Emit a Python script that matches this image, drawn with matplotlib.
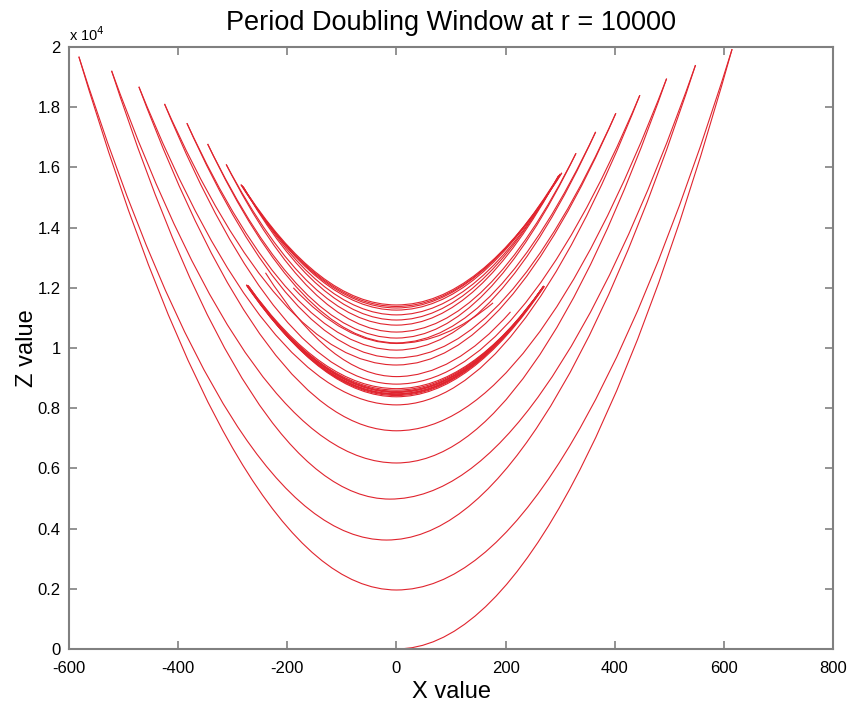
import matplotlib
matplotlib.use('Agg')
import matplotlib.pyplot as plt
from matplotlib.path import Path
from matplotlib.patches import PathPatch
from matplotlib.ticker import FuncFormatter, MultipleLocator

plt.rcParams['font.family'] = ['Liberation Sans', 'DejaVu Sans']
plt.rcParams['axes.unicode_minus'] = False

# turning points (tips) of the transient, in time order
tip_x = [615, -582, 548, -522, 495, -472, 446, -425, 402, -384, 365, -346, 329,
         -312, 297, -281, 300, -283, 303, -285, 298]
tip_z = [19930, 19680, 19400, 19210, 18950, 18680, 18400, 18110, 17800, 17470, 17180, 16780, 16470,
         16100, 15720, 15360, 15780, 15400, 15820, 15430, 15740]
# bottom of each swing between two tips
vert_x = [0, -18, -12, 0, 0, 0, 0, 0, 0, 0, 0, 0, 0, 0, 0, 0, 0, 0, 0, 0]
vert_z = [1960, 3620, 4980, 6180, 7250, 8110, 8800, 9435, 9670, 9930, 10170, 10330, 10530,
          10760, 10930, 11100, 11260, 11430, 11380, 11330]
start_x, start_z = 0, 0

# inner cusp loop (period doubled orbit)
cusp_tip_x = [-274, 270, -273, 269, -275, 270, -272, 271, -270, 268, -274]
cusp_tip_z = [12090, 12060, 12070, 12040, 12100, 12060, 12080, 12050, 12020, 12000, 12060]
cusp_vert_z = [8420, 8480, 8540, 8600, 8450, 8520, 8650, 8380, 8560, 8470]

# short swings inside the tangle (left tip, bottom, right tip)
short_left_x = [-189, -240]
short_left_z = [12000, 12500]
short_vert_z = [10150, 9050]
short_right_x = [177, 209]
short_right_z = [11500, 11200]

LINE = '#e0242e'


def swing(ax, xa, za, xv, zv, xb, zb):
    """ draw one swing: tip a -> bottom -> tip b (two parabolic halves) """
    verts = [(xa, za), ((xa + xv) / 2.0, zv), (xv, zv),
             ((xv + xb) / 2.0, zv), (xb, zb)]
    codes = [Path.MOVETO, Path.CURVE3, Path.CURVE3, Path.CURVE3, Path.CURVE3]
    ax.add_patch(PathPatch(Path(verts, codes), fill=False, edgecolor=LINE, lw=0.8))


fig = plt.figure(figsize=(8.49, 7.02), dpi=100)
ax = fig.add_axes([0.0813, 0.0755, 0.8999, 0.8575])

# first rise from the start point
swing(ax, start_x, start_z, start_x, start_z, tip_x[0], tip_z[0])
for i in range(len(vert_z)):
    swing(ax, tip_x[i], tip_z[i], vert_x[i], vert_z[i], tip_x[i + 1], tip_z[i + 1])

for i in range(len(cusp_vert_z)):
    swing(ax, cusp_tip_x[i], cusp_tip_z[i], 0, cusp_vert_z[i], cusp_tip_x[i + 1], cusp_tip_z[i + 1])

for i in range(len(short_vert_z)):
    swing(ax, short_left_x[i], short_left_z[i], 0, short_vert_z[i], short_right_x[i], short_right_z[i])

ax.set_xlim(-600, 800)
ax.set_ylim(0, 20000)
ax.xaxis.set_major_locator(MultipleLocator(200))
ax.yaxis.set_major_locator(MultipleLocator(2000))
ax.yaxis.set_major_formatter(FuncFormatter(lambda v, p: '%g' % (v / 1e4)))
ax.tick_params(direction='in', length=6, width=1.2, color='#808080',
               labelsize=12, top=True, right=True)
ax.tick_params(axis='x', pad=9)
ax.tick_params(axis='y', pad=6)
for s in ax.spines.values():
    s.set_color('#808080')
    s.set_linewidth(1.5)

ax.set_title('Period Doubling Window at r = 10000', fontsize=19.5, pad=12)
ax.set_xlabel('X value', fontsize=17, labelpad=3)
ax.set_ylabel('Z value', fontsize=17, labelpad=0)
ax.text(0.0, 1.005, 'x 10$^4$', transform=ax.transAxes, fontsize=10.5,
        ha='left', va='bottom')

fig.savefig('out.png', dpi=100)
